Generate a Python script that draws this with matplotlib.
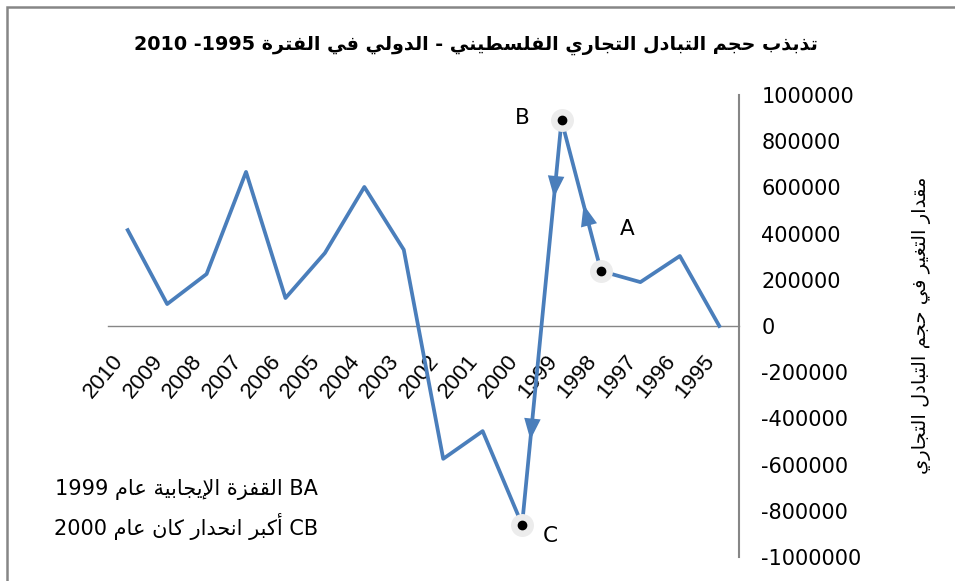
import matplotlib
matplotlib.use("Agg")
import matplotlib.pyplot as plt
from matplotlib.patches import Rectangle

# data (Excel order, 1995 first; axis is reversed)
years = ["1995", "1996", "1997", "1998", "1999", "2000", "2001", "2002",
         "2003", "2004", "2005", "2006", "2007", "2008", "2009", "2010"]
values = [0, 303000, 190000, 238000, 890000, -860000, -455000, -575000,
          330000, 602000, 316000, 121000, 667000, 225000, 95000, 415000]
y_ticks = [-1000000, -800000, -600000, -400000, -200000, 0,
           200000, 400000, 600000, 800000, 1000000]
marked_years = ["1998", "1999", "2000"]
marked_names = ["A", "B", "C"]

# --- minimal arabic shaping (matplotlib has no RTL support) ---
RIGHT = {'آ': 0xFE81, 'أ': 0xFE83, 'ؤ': 0xFE85, 'إ': 0xFE87, 'ا': 0xFE8D,
         'ة': 0xFE93, 'د': 0xFEA9, 'ذ': 0xFEAB, 'ر': 0xFEAD, 'ز': 0xFEAF,
         'و': 0xFEED, 'ى': 0xFEEF}
DUAL = {'ئ': 0xFE89, 'ب': 0xFE8F, 'ت': 0xFE95, 'ث': 0xFE99, 'ج': 0xFE9D,
        'ح': 0xFEA1, 'خ': 0xFEA5, 'س': 0xFEB1, 'ش': 0xFEB5, 'ص': 0xFEB9,
        'ض': 0xFEBD, 'ط': 0xFEC1, 'ظ': 0xFEC5, 'ع': 0xFEC9, 'غ': 0xFECD,
        'ف': 0xFED1, 'ق': 0xFED5, 'ك': 0xFED9, 'ل': 0xFEDD, 'م': 0xFEE1,
        'ن': 0xFEE5, 'ه': 0xFEE9, 'ي': 0xFEF1}
LAM_ALEF = {'آ': 0xFEF5, 'أ': 0xFEF7, 'إ': 0xFEF9, 'ا': 0xFEFB}


def shape(text):
    out = []
    i = 0
    while i < len(text):
        c = text[i]
        joins_prev = i > 0 and text[i - 1] in DUAL
        if c == 'ل' and i + 1 < len(text) and text[i + 1] in LAM_ALEF:
            out.append(chr(LAM_ALEF[text[i + 1]] + (1 if joins_prev else 0)))
            i += 2
            continue
        if c in DUAL:
            nxt = text[i + 1] if i + 1 < len(text) else ''
            joins_next = nxt in DUAL or nxt in RIGHT
            if joins_prev and joins_next:
                off = 3
            elif joins_prev:
                off = 1
            elif joins_next:
                off = 2
            else:
                off = 0
            out.append(chr(DUAL[c] + off))
        elif c in RIGHT:
            out.append(chr(RIGHT[c] + (1 if joins_prev else 0)))
        else:
            out.append(c)
        i += 1
    return ''.join(out)


def rtl(text):
    return shape(text)[::-1]


title = "2010 -1995 " + rtl("تذبذب حجم التبادل التجاري الفلسطيني - الدولي في الفترة")
ylabel = rtl("مقدار التغير في حجم التبادل التجاري")
note1 = "1999 " + rtl("القفزة الإيجابية عام") + " BA"
note2 = "2000 " + rtl("أكبر انحدار كان عام") + " CB"

line_color = "#4a7ebb"
axis_grey = "#868686"

fig = plt.figure(figsize=(9.55, 5.81), dpi=100)
ax = fig.add_axes([108 / 955, 1 - 557 / 581, (739 - 108) / 955, (557 - 95) / 581])

x = list(range(len(years)))
ax.plot(x, values, color=line_color, lw=2.7, zorder=3)

# direction arrows along A->B and B->C
def seg_point(i0, i1, t):
    return (x[i0] + (x[i1] - x[i0]) * t, values[i0] + (values[i1] - values[i0]) * t)

for i0, i1, t in [(3, 4, 0.44), (4, 5, 0.19), (4, 5, 0.79)]:
    p0 = seg_point(i0, i1, t - 0.01)
    p1 = seg_point(i0, i1, t)
    ax.annotate("", xy=p1, xytext=p0,
                arrowprops=dict(arrowstyle="-|>,head_length=0.9,head_width=0.35",
                                color=line_color, lw=0, mutation_scale=17),
                zorder=4)

# marked points
for yr, name in zip(marked_years, marked_names):
    i = years.index(yr)
    ax.plot(x[i], values[i], "o", ms=16.5, color="#ececec", mec="none", zorder=5)
    ax.plot(x[i], values[i], "o", ms=6, color="black", zorder=6)

offsets = {"A": (19, 30), "B": (-28, 2), "C": (20, -8)}
for yr, name in zip(marked_years, marked_names):
    i = years.index(yr)
    ax.annotate(name, (x[i], values[i]), xytext=offsets[name],
                textcoords="offset points", ha="center", va="center",
                fontsize=15.5, family="DejaVu Sans")

ax.set_xlim(len(years) - 0.5, -0.5)
ax.set_ylim(-1000000, 1000000)

ax.spines["top"].set_visible(False)
ax.spines["left"].set_visible(False)
ax.spines["bottom"].set_position(("data", 0))
ax.spines["bottom"].set_color(axis_grey)
ax.spines["right"].set_color(axis_grey)
ax.spines["bottom"].set_linewidth(1)
ax.spines["right"].set_linewidth(1.5)

ax.yaxis.tick_right()
ax.set_yticks(y_ticks)
ax.set_yticklabels([str(v) for v in y_ticks], fontsize=15, family="DejaVu Sans")
ax.tick_params(axis="y", length=0, pad=16)

ax.set_xticks(x)
ax.set_xticklabels(years, fontsize=16, family="Liberation Sans",
                   rotation=50, ha="right", va="top")
ax.tick_params(axis="x", length=0, pad=18)

fig.text(476 / 955, 1 - 45 / 581, title, ha="center", va="center",
         fontsize=13.8, fontweight="bold", family="DejaVu Sans")
fig.text(921 / 955, 1 - 325 / 581, ylabel, ha="center", va="center",
         rotation=90, fontsize=14, family="DejaVu Sans")
fig.text(318 / 955, 1 - 490 / 581, note1, ha="right", va="center",
         fontsize=15, family="DejaVu Sans")
fig.text(318 / 955, 1 - 527 / 581, note2, ha="right", va="center",
         fontsize=15, family="DejaVu Sans")

# chart frame (only top and left edges show inside the picture)
fig.patches.append(Rectangle((7 / 955, -0.1), 1.2, 1.1 - 7 / 581,
                             transform=fig.transFigure, fill=False,
                             edgecolor=axis_grey, lw=1.8))

fig.savefig("out.png", dpi=100)
